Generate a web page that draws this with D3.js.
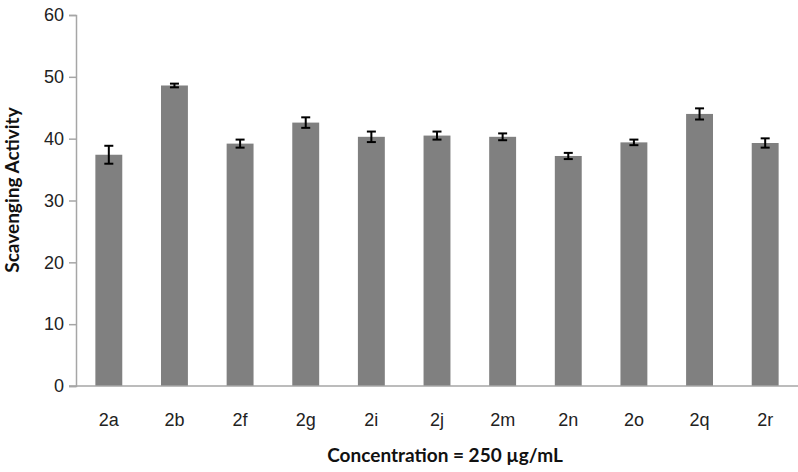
<!DOCTYPE html>
<html>
<head>
<meta charset="utf-8">
<script src="https://cdn.jsdelivr.net/npm/d3@7"></script>
<style>
  body { margin: 0; background: #fff; }
  svg { display: block; font-family: Lato, 'Open Sans', sans-serif; }
</style>
</head>
<body>
<div id="chart"></div>
<script>
const categories = ['2a', '2b', '2f', '2g', '2i', '2j', '2m', '2n', '2o', '2q', '2r']
const values = [37.4, 48.6, 39.2, 42.6, 40.3, 40.5, 40.3, 37.2, 39.4, 44.0, 39.3]
const errors = [1.45, 0.3, 0.65, 0.85, 0.85, 0.65, 0.55, 0.5, 0.45, 0.9, 0.75]
const yTicks = [0, 10, 20, 30, 40, 50, 60]

const width = 798
const height = 472
const margin = {top: 15, right: 0, bottom: 86, left: 76}

const svg = d3.select('#chart').append('svg')
    .attr('width', width)
    .attr('height', height)

const x = d3.scaleBand()
    .domain(categories)
    .range([margin.left, width - margin.right])
    .paddingInner(0.59)
    .paddingOuter(0.295)

const y = d3.scaleLinear()
    .domain([0, 60])
    .range([height - margin.bottom, margin.top])

// y axis
const yAxis = svg.append('g')
    .attr('transform', `translate(${margin.left},0)`)
    .call(d3.axisLeft(y).tickValues(yTicks).tickSize(7).tickPadding(5))
yAxis.select('.domain').attr('stroke', '#a6a6a6').attr('stroke-width', 1.5)
yAxis.selectAll('.tick line').attr('stroke', '#a6a6a6').attr('stroke-width', 1.5)
yAxis.selectAll('.tick text').attr('font-size', 18).attr('fill', '#222')

// bars
svg.append('g').selectAll('rect')
    .data(categories)
    .join('rect')
    .attr('x', d => x(d))
    .attr('width', x.bandwidth())
    .attr('y', (d, i) => y(values[i]))
    .attr('height', (d, i) => y(0) - y(values[i]))
    .attr('fill', '#808080')

// error bars
const eb = svg.append('g').attr('stroke', '#000').attr('stroke-width', 2)
categories.forEach((c, i) => {
    const cx = x(c) + x.bandwidth() / 2
    const top = y(values[i] + errors[i])
    const bot = y(values[i] - errors[i])
    eb.append('line').attr('x1', cx).attr('x2', cx).attr('y1', top).attr('y2', bot)
    eb.append('line').attr('x1', cx - 4.5).attr('x2', cx + 4.5).attr('y1', top).attr('y2', top)
    eb.append('line').attr('x1', cx - 4.5).attr('x2', cx + 4.5).attr('y1', bot).attr('y2', bot)
})

// x axis
const xAxis = svg.append('g')
    .attr('transform', `translate(0,${y(0)})`)
    .call(d3.axisBottom(x).tickSize(0).tickPadding(27))
xAxis.select('.domain').remove()
xAxis.selectAll('.tick text').attr('font-size', 18).attr('fill', '#222')
svg.append('line')
    .attr('x1', margin.left - 7).attr('x2', width)
    .attr('y1', y(0)).attr('y2', y(0))
    .attr('stroke', '#a6a6a6').attr('stroke-width', 1.5)

// axis titles
svg.append('text')
    .attr('x', 445).attr('y', 462)
    .attr('text-anchor', 'middle')
    .attr('font-size', 19).attr('font-weight', 'bold')
    .attr('fill', '#111')
    .text('Concentration = 250 µg/mL')

svg.append('text')
    .attr('transform', 'translate(19,190) rotate(-90)')
    .attr('text-anchor', 'middle')
    .attr('font-size', 19).attr('font-weight', 'bold')
    .attr('fill', '#111')
    .text('Scavenging Activity')
</script>
</body>
</html>
